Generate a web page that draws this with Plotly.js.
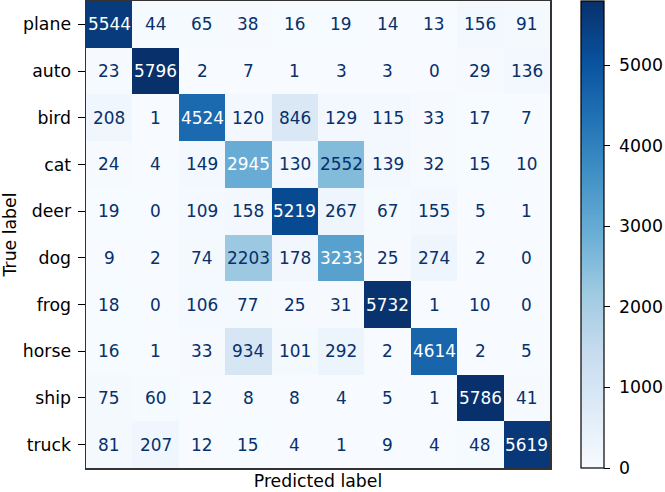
<!DOCTYPE html>
<html>
<head>
<meta charset="utf-8">
<script src="https://cdn.plot.ly/plotly-3.0.1.min.js"></script>
<style>
  body { margin: 0; padding: 0; background: #fff; }
  #chart { width: 665px; height: 492px; }
</style>
</head>
<body>
<div id="chart"></div>
<script>
// class names, rows are true labels, columns are predicted labels
const classes = ['plane', 'auto', 'bird', 'cat', 'deer', 'dog', 'frog', 'horse', 'ship', 'truck'];

// confusion matrix counts, one array per true label
const plane = [5544, 44, 65, 38, 16, 19, 14, 13, 156, 91];
const auto  = [23, 5796, 2, 7, 1, 3, 3, 0, 29, 136];
const bird  = [208, 1, 4524, 120, 846, 129, 115, 33, 17, 7];
const cat   = [24, 4, 149, 2945, 130, 2552, 139, 32, 15, 10];
const deer  = [19, 0, 109, 158, 5219, 267, 67, 155, 5, 1];
const dog   = [9, 2, 74, 2203, 178, 3233, 25, 274, 2, 0];
const frog  = [18, 0, 106, 77, 25, 31, 5732, 1, 10, 0];
const horse = [16, 1, 33, 934, 101, 292, 2, 4614, 2, 5];
const ship  = [75, 60, 12, 8, 8, 4, 5, 1, 5786, 41];
const truck = [81, 207, 12, 15, 4, 1, 9, 4, 48, 5619];

const colorbarTicks = [0, 1000, 2000, 3000, 4000, 5000];

const matrix = [plane, auto, bird, cat, deer, dog, frog, horse, ship, truck];

// matplotlib Blues colormap
const blues = [
  [0.0, '#f7fbff'], [0.125, '#deebf7'], [0.25, '#c6dbef'], [0.375, '#9ecae1'],
  [0.5, '#6baed6'], [0.625, '#4292c6'], [0.75, '#2171b5'], [0.875, '#08519c'],
  [1.0, '#08306b']
];

const font = 'DejaVu Sans, sans-serif';
const fontSize = 17.3;
const cellFontSize = 16.9;

const allValues = matrix.flat();
const zmin = Math.min(...allValues);
const zmax = Math.max(...allValues);
const threshold = (zmax + zmin) / 2;

// one annotation per cell, white text on the dark cells
const annotations = [];
matrix.forEach((row, i) => {
  row.forEach((value, j) => {
    annotations.push({
      x: j, y: i, xref: 'x', yref: 'y',
      text: String(value), showarrow: false,
      font: {family: font, size: cellFontSize, color: value > threshold ? '#ffffff' : '#08306b'}
    });
  });
});

const data = [{
  type: 'heatmap',
  z: matrix,
  x: classes.map((c, j) => j),
  y: classes.map((c, i) => i),
  zmin: zmin,
  zmax: zmax,
  colorscale: blues,
  showscale: true,
  hoverinfo: 'none',
  colorbar: {
    x: 1.066, xanchor: 'left', xref: 'paper',
    y: 0, yanchor: 'bottom', len: 1, lenmode: 'fraction',
    thickness: 23, thicknessmode: 'pixels',
    outlinecolor: '#000', outlinewidth: 1.2,
    tickvals: colorbarTicks,
    ticktext: colorbarTicks.map(t => '\u00a0' + t),
    ticks: 'outside', ticklen: 6, tickcolor: '#000',
    tickfont: {family: font, size: fontSize, color: '#000'},
    xpad: 0, ypad: 0
  }
}];

const layout = {
  width: 665,
  height: 492,
  margin: {l: 86, r: 112, t: 1, b: 24},
  paper_bgcolor: '#fff',
  plot_bgcolor: '#fff',
  font: {family: font, size: fontSize, color: '#000'},
  xaxis: {
    range: [-0.5, 9.5], showticklabels: false, ticks: '',
    showgrid: false, zeroline: false,
    showline: true, mirror: true, linecolor: '#333', linewidth: 1.5,
    title: {text: 'Predicted label', font: {family: font, size: fontSize}, standoff: 6}
  },
  yaxis: {
    range: [9.5, -0.5], tickvals: classes.map((c, i) => i), ticktext: classes,
    ticks: 'outside', ticklen: 7, tickcolor: '#000', ticklabelstandoff: 3,
    showgrid: false, zeroline: false,
    showline: true, mirror: true, linecolor: '#333', linewidth: 1.5,
    title: {text: 'True label', font: {family: font, size: fontSize}, standoff: 7}
  },
  annotations: annotations
};

Plotly.newPlot('chart', data, layout, {displayModeBar: false, staticPlot: true});
</script>
</body>
</html>
